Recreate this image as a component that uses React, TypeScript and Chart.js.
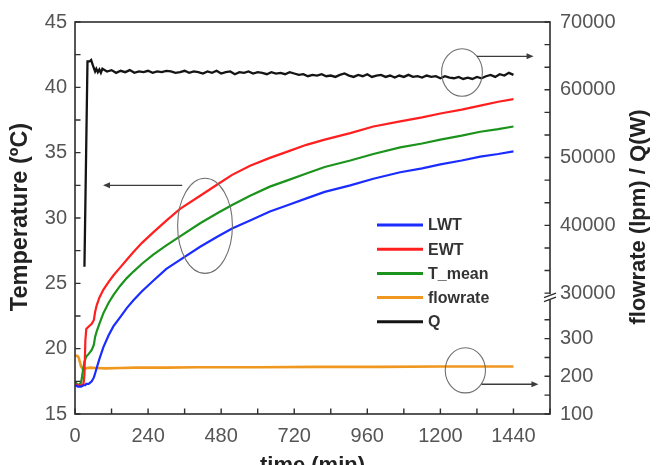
import React, { useEffect, useRef } from 'react';
import { Chart, registerables } from 'chart.js';

Chart.register(...registerables);

// Water temperatures (°C) sampled over the test run (minutes)
const tempTime = [0, 10, 20, 28, 31, 34, 37, 45, 55, 62, 66, 71, 80, 93, 110, 126, 148, 170, 192, 220, 257, 300, 345, 411, 470, 516, 575, 640, 700, 760, 820, 904, 980, 1068, 1140, 1200, 1270, 1331, 1390, 1440];
const lwt = [17.2, 17.1, 17.1, 17.2, 17.2, 17.2, 17.3, 17.3, 17.5, 17.8, 18.1, 18.5, 19.2, 20.1, 21.0, 21.7, 22.4, 23.1, 23.7, 24.4, 25.2, 26.1, 26.8, 27.8, 28.6, 29.2, 29.8, 30.5, 31.0, 31.5, 32.0, 32.5, 33.0, 33.5, 33.8, 34.1, 34.4, 34.7, 34.9, 35.1];
const ewt = [17.3, 17.2, 17.2, 17.3, 18.0, 20.6, 21.5, 21.7, 21.9, 22.2, 22.8, 23.3, 23.9, 24.5, 25.1, 25.6, 26.2, 26.8, 27.4, 28.1, 28.9, 29.8, 30.7, 31.7, 32.6, 33.3, 34.0, 34.6, 35.1, 35.6, 36.0, 36.5, 37.0, 37.4, 37.7, 38.0, 38.3, 38.6, 38.9, 39.1];
const tMean = [17.5, 17.2, 17.4, 18.6, 19.0, 19.2, 19.4, 19.6, 19.9, 20.3, 20.9, 21.3, 21.9, 22.7, 23.5, 24.1, 24.8, 25.4, 25.9, 26.5, 27.2, 27.9, 28.6, 29.6, 30.4, 31.0, 31.7, 32.4, 32.9, 33.4, 33.9, 34.4, 34.9, 35.4, 35.7, 36.0, 36.3, 36.6, 36.8, 37.0];

// Circulation flow rate (lpm)
const flowTime = [0, 8, 12, 16, 20, 25, 30, 40, 50, 70, 100, 150, 200, 300, 400, 600, 800, 1000, 1200, 1440];
const flowrate = [255, 254, 250, 238, 226, 220, 219, 222, 223, 222, 221, 222, 223, 223, 224, 224, 225, 225, 226, 226];

// Heat injection rate Q (W)
const qTime = [31, 41, 48, 53, 58, 62, 66, 70, 75, 80, 85, 90, 105, 120, 135, 150, 165, 180, 195, 210, 225, 240, 255, 270, 285, 300, 315, 330, 345, 360, 375, 390, 405, 420, 435, 450, 465, 480, 495, 510, 525, 540, 555, 570, 585, 600, 615, 630, 645, 660, 675, 690, 705, 720, 735, 750, 765, 780, 795, 810, 825, 840, 855, 870, 885, 900, 915, 930, 945, 960, 975, 990, 1005, 1020, 1035, 1050, 1065, 1080, 1095, 1110, 1125, 1140, 1155, 1170, 1185, 1200, 1215, 1230, 1245, 1260, 1275, 1290, 1305, 1320, 1335, 1350, 1365, 1380, 1395, 1410, 1425, 1440];
const qPower = [33900, 64200, 64200, 64400, 63700, 63200, 62700, 63100, 62600, 63000, 62500, 63100, 62700, 62900, 62500, 62800, 62600, 62900, 62500, 62700, 62600, 62800, 62500, 62700, 62600, 62800, 62700, 62500, 62600, 62800, 62500, 62700, 62600, 62400, 62700, 62500, 62800, 62400, 62600, 62700, 62300, 62600, 62500, 62700, 62400, 62600, 62500, 62300, 62600, 62400, 62500, 62300, 62600, 62400, 62200, 62300, 62000, 62200, 62100, 62300, 62000, 62100, 61900, 62200, 62400, 62100, 61900, 62200, 62000, 62300, 61900, 62100, 62200, 61900, 62100, 61800, 62100, 61900, 62200, 61900, 62000, 61800, 62100, 61900, 62000, 61700, 62000, 61800, 61700, 61900, 61600, 61800, 61600, 61900, 61700, 62000, 62200, 61900, 62300, 62100, 62500, 62200, 62500];

// Axis ticks (minor ticks carry no label)
const timeTicks = [0, 120, 240, 360, 480, 600, 720, 840, 960, 1080, 1200, 1320, 1440, 1560];
const tempTicks = [15, 17.5, 20, 22.5, 25, 27.5, 30, 32.5, 35, 37.5, 40, 42.5, 45];
const powerTicks = [30000, 33333, 36667, 40000, 43333, 46667, 50000, 53333, 56667, 60000, 63333, 66667, 70000];
const flowTicks = [100, 150, 200, 250, 300, 350];

const seriesStyle = [
  { label: 'LWT', color: '#1a2cff' },
  { label: 'EWT', color: '#ff1f1f' },
  { label: 'T_mean', color: '#1c931c' },
  { label: 'flowrate', color: '#f0971f' },
  { label: 'Q', color: '#141414' },
];

const AXIS_COLOR = '#2e2e2e';
const TICK_FONT = { family: '"Liberation Sans", Arial, sans-serif', size: 20 };

const pairs = (xs: number[], ys: number[]) => xs.map((x, i) => ({ x, y: ys[i] }));

const drawArrow = (ctx: CanvasRenderingContext2D, x1: number, y1: number, x2: number, y2: number) => {
  const ang = Math.atan2(y2 - y1, x2 - x1);
  const len = 7;
  const half = 3;
  ctx.beginPath();
  ctx.moveTo(x1, y1);
  ctx.lineTo(x2 - Math.cos(ang) * len * 0.8, y2 - Math.sin(ang) * len * 0.8);
  ctx.stroke();
  ctx.beginPath();
  ctx.moveTo(x2, y2);
  ctx.lineTo(x2 - Math.cos(ang) * len - Math.sin(ang) * half, y2 - Math.sin(ang) * len + Math.cos(ang) * half);
  ctx.lineTo(x2 - Math.cos(ang) * len + Math.sin(ang) * half, y2 - Math.sin(ang) * len - Math.cos(ang) * half);
  ctx.closePath();
  ctx.fill();
};

const decorations = {
  id: 'decorations',
  afterDraw(chart: any) {
    const { ctx, chartArea: a, scales } = chart;
    const x = scales.x;
    const yT = scales.y;
    const yQ = scales.yq;
    const yF = scales.yf;
    ctx.save();

    // frame
    ctx.strokeStyle = AXIS_COLOR;
    ctx.lineWidth = 1.6;
    ctx.strokeRect(a.left, a.top, a.right - a.left, a.bottom - a.top);

    // inward tick marks
    const tl = 5.5;
    ctx.lineWidth = 1.4;
    ctx.beginPath();
    x.ticks.forEach((t: any) => {
      const px = x.getPixelForValue(t.value);
      ctx.moveTo(px, a.bottom);
      ctx.lineTo(px, a.bottom - tl);
    });
    yT.ticks.forEach((t: any) => {
      const py = yT.getPixelForValue(t.value);
      ctx.moveTo(a.left, py);
      ctx.lineTo(a.left + tl, py);
    });
    [yQ, yF].forEach((s: any) => {
      s.ticks.forEach((t: any) => {
        const py = s.getPixelForValue(t.value);
        ctx.moveTo(a.right, py);
        ctx.lineTo(a.right - tl, py);
      });
    });
    ctx.stroke();

    // axis break between the two right-hand ranges
    const by = yQ.bottom;
    ctx.fillStyle = '#ffffff';
    ctx.fillRect(a.right - 2, by - 3, 4, 5);
    ctx.beginPath();
    ctx.moveTo(a.right - 6, by + 0.5);
    ctx.lineTo(a.right + 6, by - 4);
    ctx.moveTo(a.right - 6, by + 4.5);
    ctx.lineTo(a.right + 6, by);
    ctx.lineWidth = 1.3;
    ctx.stroke();

    // marker ellipses with arrows pointing at their axes
    ctx.strokeStyle = '#6f6f6f';
    ctx.lineWidth = 1.1;
    const ellipse = (sx: any, sy: any, cx: number, cy: number, rx: number, ry: number) => {
      const px = sx.getPixelForValue(cx);
      const py = sy.getPixelForValue(cy);
      const rpx = Math.abs(sx.getPixelForValue(cx + rx) - px);
      const rpy = Math.abs(sy.getPixelForValue(cy + ry) - py);
      ctx.beginPath();
      ctx.ellipse(px, py, rpx, rpy, 0, 0, Math.PI * 2);
      ctx.stroke();
    };
    ellipse(x, yT, 427, 29.4, 90, 3.64);
    ellipse(x, yQ, 1271, 62550, 67, 3500);
    ellipse(x, yF, 1282, 216, 66, 60);

    ctx.strokeStyle = '#3c3c3c';
    ctx.fillStyle = '#3c3c3c';
    ctx.lineWidth = 1.3;
    drawArrow(ctx, x.getPixelForValue(352), yT.getPixelForValue(32.5), x.getPixelForValue(92), yT.getPixelForValue(32.5));
    drawArrow(ctx, x.getPixelForValue(1320), yQ.getPixelForValue(64930), x.getPixelForValue(1506), yQ.getPixelForValue(64930));
    drawArrow(ctx, x.getPixelForValue(1335), yF.getPixelForValue(179), x.getPixelForValue(1522), yF.getPixelForValue(179));

    // legend
    const lx = a.left + 302;
    const ly = a.top + 203;
    ctx.font = 'bold 16px "Liberation Sans", Arial, sans-serif';
    ctx.textBaseline = 'middle';
    ctx.textAlign = 'left';
    seriesStyle.forEach((s, i) => {
      const yy = ly + i * 24.2;
      ctx.strokeStyle = s.color;
      ctx.lineWidth = 3;
      ctx.beginPath();
      ctx.moveTo(lx, yy);
      ctx.lineTo(lx + 46, yy);
      ctx.stroke();
      ctx.fillStyle = '#333333';
      ctx.fillText(s.label, lx + 51, yy + 1);
    });

    // axis titles
    ctx.fillStyle = '#222222';
    ctx.textAlign = 'center';
    ctx.textBaseline = 'middle';
    ctx.font = 'bold 23.5px "Liberation Sans", Arial, sans-serif';
    ctx.save();
    ctx.translate(21, 217);
    ctx.rotate(-Math.PI / 2);
    ctx.fillText('Temperature (ºC)', 0, 0);
    ctx.restore();
    ctx.font = 'bold 22px "Liberation Sans", Arial, sans-serif';
    ctx.save();
    ctx.translate(639, 217);
    ctx.rotate(-Math.PI / 2);
    ctx.fillText('flowrate (lpm) / Q(W)', 0, 0);
    ctx.restore();
    ctx.textBaseline = 'alphabetic';
    ctx.fillText('time (min)', (a.left + a.right) / 2, 472);

    ctx.restore();
  },
};

const hiddenGrid = { display: false, drawTicks: false };
const hiddenBorder = { display: false };

export default function App() {
  const canvasRef = useRef<HTMLCanvasElement | null>(null);

  useEffect(() => {
    if (!canvasRef.current) return;
    const lineBase = { pointRadius: 0, tension: 0, fill: false, borderWidth: 2.2 };
    const chart = new Chart(canvasRef.current, {
      type: 'line',
      data: {
        datasets: [
          { ...lineBase, label: 'LWT', data: pairs(tempTime, lwt), borderColor: seriesStyle[0].color, yAxisID: 'y' },
          { ...lineBase, label: 'EWT', data: pairs(tempTime, ewt), borderColor: seriesStyle[1].color, yAxisID: 'y' },
          { ...lineBase, label: 'T_mean', data: pairs(tempTime, tMean), borderColor: seriesStyle[2].color, yAxisID: 'y' },
          { ...lineBase, label: 'flowrate', data: pairs(flowTime, flowrate), borderColor: seriesStyle[3].color, borderWidth: 2.6, yAxisID: 'yf' },
          { ...lineBase, label: 'Q', data: pairs(qTime, qPower), borderColor: seriesStyle[4].color, borderWidth: 2.3, yAxisID: 'yq' },
        ],
      },
      options: {
        animation: false,
        responsive: false,
        layout: { padding: { top: 18, left: 0, right: 0, bottom: 0 } },
        plugins: { legend: { display: false }, tooltip: { enabled: false } },
        scales: {
          x: {
            type: 'linear',
            min: 0,
            max: 1560,
            grid: hiddenGrid,
            border: hiddenBorder,
            afterBuildTicks: (s: any) => { s.ticks = timeTicks.map((v) => ({ value: v })); },
            afterFit: (s: any) => { s.height = 51; },
            ticks: {
              autoSkip: false,
              maxRotation: 0,
              padding: 10,
              color: '#555555',
              font: TICK_FONT,
              callback: (v: any) => (Number(v) % 240 === 0 ? String(v) : ''),
            },
          },
          y: {
            type: 'linear',
            position: 'left',
            min: 15,
            max: 45,
            grid: hiddenGrid,
            border: hiddenBorder,
            afterBuildTicks: (s: any) => { s.ticks = tempTicks.map((v) => ({ value: v })); },
            afterFit: (s: any) => { s.width = 75; },
            ticks: {
              autoSkip: false,
              padding: 8,
              color: '#555555',
              font: TICK_FONT,
              callback: (v: any) => (Number(v) % 5 === 0 ? String(v) : ''),
            },
          },
          yq: {
            type: 'linear',
            position: 'right',
            stack: 'right',
            stackWeight: 278,
            min: 29400,
            max: 70000,
            grid: hiddenGrid,
            border: hiddenBorder,
            afterBuildTicks: (s: any) => { s.ticks = powerTicks.map((v) => ({ value: v })); },
            afterFit: (s: any) => { s.width = 115; },
            ticks: {
              autoSkip: false,
              padding: 10,
              color: '#555555',
              font: TICK_FONT,
              callback: (v: any) => (Math.round(Number(v)) % 10000 === 0 ? String(Math.round(Number(v))) : ''),
            },
          },
          yf: {
            type: 'linear',
            position: 'right',
            stack: 'right',
            stackWeight: 118,
            min: 100,
            max: 410,
            grid: hiddenGrid,
            border: hiddenBorder,
            afterBuildTicks: (s: any) => { s.ticks = flowTicks.map((v) => ({ value: v })); },
            afterFit: (s: any) => { s.width = 115; },
            ticks: {
              autoSkip: false,
              padding: 10,
              color: '#555555',
              font: TICK_FONT,
              callback: (v: any) => (Number(v) % 100 === 0 ? String(v) : ''),
            },
          },
        },
      },
      plugins: [decorations],
    } as any);
    return () => chart.destroy();
  }, []);

  return (
    <div style={{ position: 'fixed', left: 0, top: 0, width: 665, height: 465, background: '#ffffff' }}>
      <canvas ref={canvasRef} width={665} height={465} style={{ display: 'block' }} />
    </div>
  );
}
